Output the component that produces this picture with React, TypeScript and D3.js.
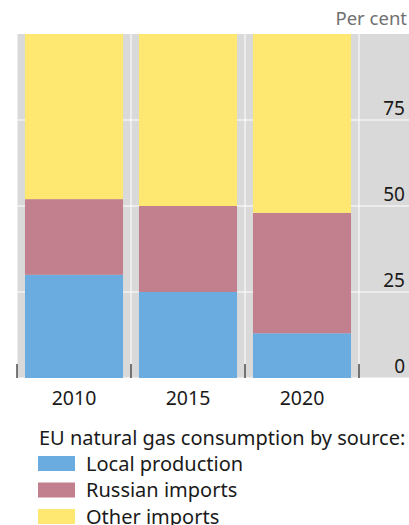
import React from 'react';
import * as d3 from 'd3';

const years = ['2010', '2015', '2020'];
const localProduction = [30, 25, 13];
const russianImports = [22, 25, 35];
const otherImports = [48, 50, 52];
const yTicks = [0, 25, 50, 75];
const seriesNames = ['Local production', 'Russian imports', 'Other imports'];
const colors = ['#6aacdf', '#c27f8e', '#ffe872'];

const W = 409;
const H = 525;
const font = '"Noto Sans", "Open Sans", sans-serif';

const App = () => {
  const left = 17;
  const bandsRight = 359;
  const top = 34;
  const bottom = 378;

  const x = d3.scaleBand().domain(years).range([left, bandsRight]).paddingInner(0.14).paddingOuter(0.07);
  const bandStep = x.step();
  const y = d3.scaleLinear().domain([0, 100]).range([bottom, top]);

  const rows = years.map((yr, i) => ({
    year: yr,
    local: localProduction[i],
    russian: russianImports[i],
    other: otherImports[i],
  }));
  const stack = d3.stack<any>().keys(['local', 'russian', 'other'])(rows);

  const boundaries = years.map((_, i) => left + bandStep * i).concat([bandsRight]);

  return (
    <svg width={W} height={H} style={{ position: 'absolute', left: 0, top: 0 }} fontFamily={font}>
      <rect x={left} y={top} width={W - left} height={bottom - top} fill="#d9d9d9" />
      {yTicks.map(t => (
        <line key={t} x1={left} x2={W} y1={y(t)} y2={y(t)} stroke="#fff" strokeWidth={1} />
      ))}
      {boundaries.map((b, i) => (
        <line key={i} x1={b} x2={b} y1={top} y2={bottom} stroke="#fff" strokeWidth={1} />
      ))}
      {stack.map((s, si) =>
        s.map((d, i) => (
          <rect
            key={si + '-' + i}
            x={x(years[i])}
            width={x.bandwidth()}
            y={y(d[1])}
            height={y(d[0]) - y(d[1])}
            fill={colors[si]}
          />
        ))
      )}
      {boundaries.map((b, i) => (
        <line key={'t' + i} x1={b} x2={b} y1={bottom - 14} y2={bottom} stroke="#222" strokeWidth={1.2} />
      ))}
      {yTicks.map(t => (
        <text key={t} x={405} y={y(t) - 5} textAnchor="end" fontSize={19} fill="#1a1a1a">
          {t}
        </text>
      ))}
      <text x={407} y={25} textAnchor="end" fontSize={18.5} fill="#707070">Per cent</text>
      {years.map(yr => (
        <text key={yr} x={(x(yr) as number) + x.bandwidth() / 2} y={405} textAnchor="middle" fontSize={19.5} fill="#1a1a1a">
          {yr}
        </text>
      ))}
      <text x={39} y={445} fontSize={20} fill="#1a1a1a">EU natural gas consumption by source:</text>
      {seriesNames.map((n, i) => (
        <g key={n} transform={`translate(38, ${456 + i * 26.5})`}>
          <rect x={0} y={0} width={37} height={15} fill={colors[i]} />
          <text x={48} y={14.5} fontSize={20} fill="#1a1a1a">{n}</text>
        </g>
      ))}
    </svg>
  );
};

export default App;
